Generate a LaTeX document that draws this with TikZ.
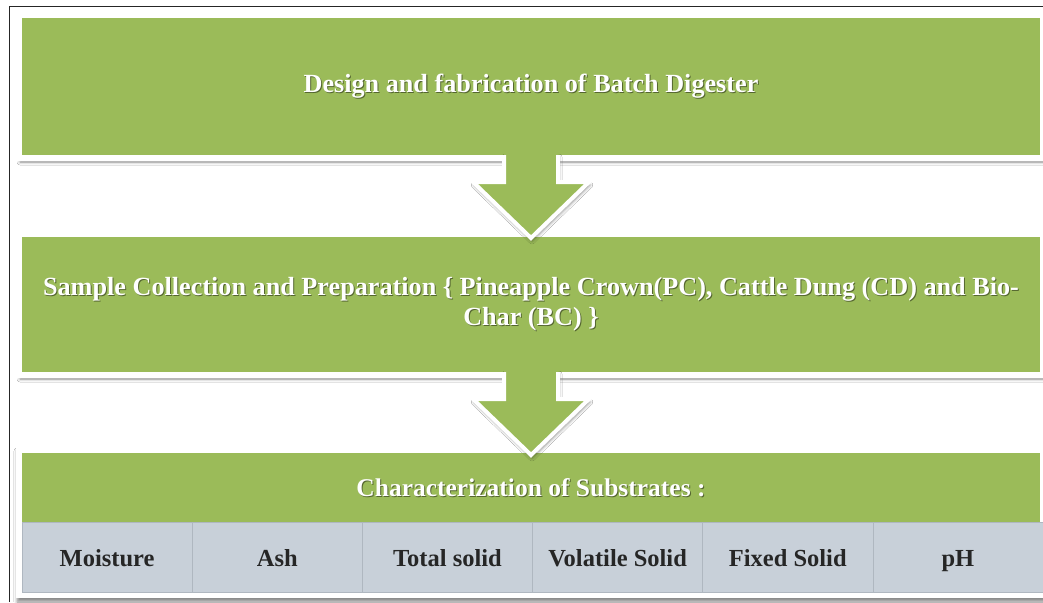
\documentclass[tikz,border=0pt]{standalone}
\usepackage{fontspec}
\setmainfont{Liberation Serif}
\usetikzlibrary{shadows.blur,calc}
\definecolor{olive}{RGB}{155,187,89}
\definecolor{cellgray}{RGB}{200,208,217}
\definecolor{divgray}{RGB}{175,183,192}
\begin{document}
\begin{tikzpicture}[x=1pt,y=-1pt,
  gbox/.style={rectangle, fill=olive, draw=white, line width=6pt, inner sep=0pt, outer sep=0pt,
    blur shadow={shadow xshift=1pt, shadow yshift=-4pt, shadow blur radius=3pt, shadow opacity=45}},
  framebox/.style={rectangle, fill=white, draw=none, inner sep=0pt, outer sep=0pt,
    blur shadow={shadow xshift=1pt, shadow yshift=-4pt, shadow blur radius=3pt, shadow opacity=45}},
  greenfill/.style={rectangle, fill=olive, draw=none, inner sep=0pt, outer sep=0pt},
  htext/.style={text=white, font=\bfseries\fontsize{26.2}{30}\selectfont, align=center, inner sep=0pt},
  hshadow/.style={text=black, opacity=0.45, font=\bfseries\fontsize{26.2}{30}\selectfont, align=center, inner sep=0pt},
  smallhead/.style={font=\bfseries\fontsize{25.5}{30}\selectfont},
  cell/.style={rectangle, fill=cellgray, draw=divgray, line width=0.6pt, minimum width=170.17pt,
    minimum height=70pt, inner sep=0pt, outer sep=0pt, text=black!85, text height=21pt, text depth=3pt,
    font=\bfseries\fontsize{24.5}{28}\selectfont},
  arrowfill/.style={fill=olive, blur shadow={shadow xshift=1pt, shadow yshift=-3pt, shadow blur radius=3pt, shadow opacity=45}},
  arrowline/.style={draw=white, line width=4pt, line join=miter}
]
\useasboundingbox (0,0) rectangle (1043,602);
\fill[white] (0,0) rectangle (1043,602);

% boxes
\node[gbox, minimum width=1024pt, minimum height=143pt] (b1) at (531,86.5) {};
\node[gbox, minimum width=1024pt, minimum height=141pt] (b2) at (531,304.5) {};
\node[framebox, minimum width=1030pt, minimum height=151pt] (f3) at (531,522.5) {};
\node[greenfill, minimum width=1018pt, minimum height=69pt] (b3) at (531,487.5) {};
\foreach \i/\t in {0/Moisture,1/Ash,2/Total solid,3/Volatile Solid,4/Fixed Solid,5/pH}{
  \node[cell] (c\i) at ({22+85.085+170.17*\i},557) {\t};
}

% arrows
\foreach \b/\n in {b1/b2, b2/b3}{
  \path[arrowfill] ($(\b.south)+(-27,-4)$) -- ($(\b.south)+(-27,24)$) -- ($(\b.south)+(-58,24)$)
     -- ($(\b.south)+(0,80)$) -- ($(\b.south)+(58,24)$) -- ($(\b.south)+(27,24)$)
     -- ($(\b.south)+(27,-4)$) -- cycle;
  \draw[arrowline] ($(\b.south)+(-27,-3)$) -- ($(\b.south)+(-27,24)$) -- ($(\b.south)+(-58,24)$)
     -- ($(\b.south)+(0,80)$) -- ($(\b.south)+(58,24)$) -- ($(\b.south)+(27,24)$)
     -- ($(\b.south)+(27,-3)$);
}

% texts
\node[hshadow] at ($(b1.center)+(1,1)$) {Design and fabrication of Batch Digester};
\node[htext] (t1) at (b1.center) {Design and fabrication of Batch Digester};
\node[hshadow] at ($(b2.center)+(1,1)$) {Sample Collection and Preparation \{ Pineapple Crown(PC), Cattle Dung (CD) and Bio-\\Char (BC) \}};
\node[htext] (t2) at (b2.center) {Sample Collection and Preparation \{ Pineapple Crown(PC), Cattle Dung (CD) and Bio-\\Char (BC) \}};
\node[hshadow, smallhead] at ($(b3.center)+(1,1)$) {Characterization of Substrates :};
\node[htext, smallhead] (t3) at (b3.center) {Characterization of Substrates :};

% outer frame
\draw[line width=1pt, black!85] (9,602) -- (9,7) -- (1043,7);
\end{tikzpicture}
\end{document}
